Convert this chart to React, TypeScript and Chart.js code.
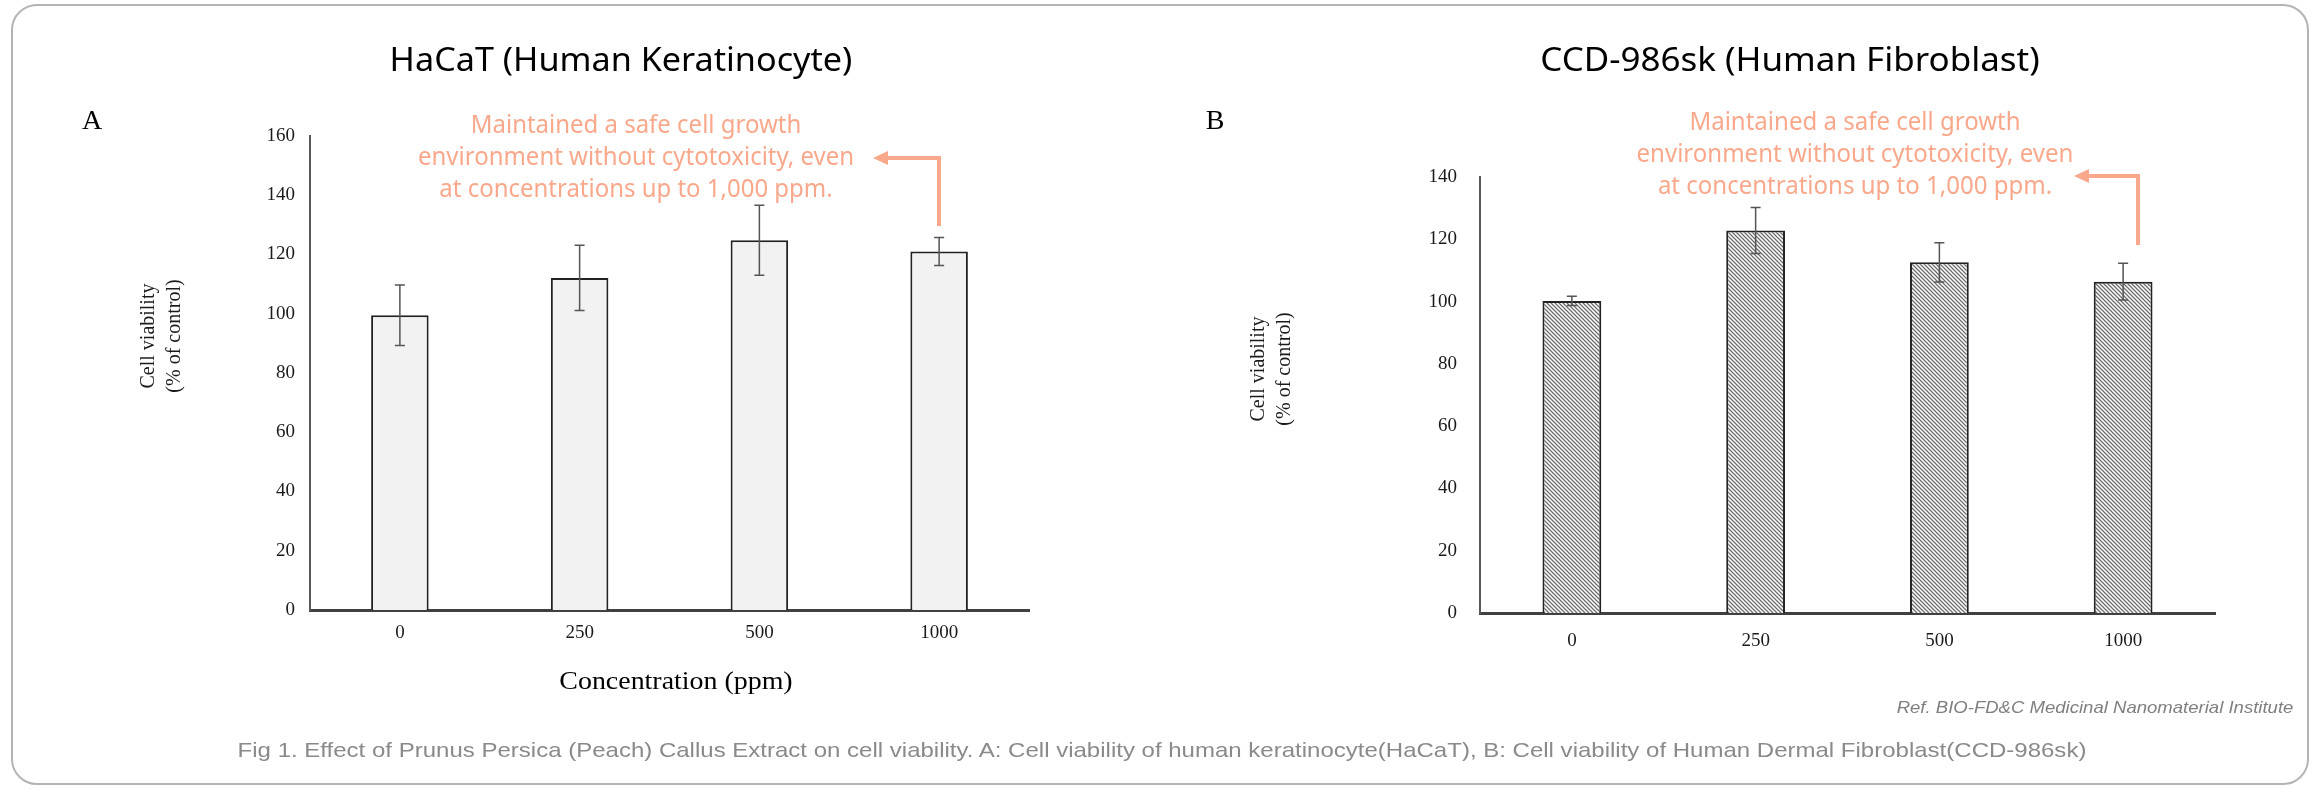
import React, { useEffect, useLayoutEffect, useRef, useState } from "react";
import { Chart, registerables } from "chart.js";

Chart.register(...registerables);

// ---------- data ----------
const categories = ["0", "250", "500", "1000"];
const hacatViability = [99.5, 112.1, 124.8, 121.0];
const hacatError = [10.2, 11.0, 11.8, 4.7];
const fibroViability = [100.2, 122.8, 112.6, 106.4];
const fibroError = [1.5, 7.4, 6.3, 5.9];
const hacatYTicks = [0, 20, 40, 60, 80, 100, 120, 140, 160];
const fibroYTicks = [0, 20, 40, 60, 80, 100, 120, 140];

const titleA = "HaCaT (Human Keratinocyte)";
const titleB = "CCD-986sk (Human Fibroblast)";
const noteLines = [
  "Maintained a safe cell growth",
  "environment without cytotoxicity, even",
  "at concentrations up to 1,000 ppm.",
];
const yTitleLines = ["Cell viability", "(% of control)"];
const xTitle = "Concentration (ppm)";
const caption =
  "Fig 1. Effect of Prunus Persica (Peach) Callus Extract on cell viability. A: Cell viability of human keratinocyte(HaCaT), B: Cell viability of Human Dermal Fibroblast(CCD-986sk)";
const refText = "Ref. BIO-FD&C Medicinal Nanomaterial Institute";

const SALMON = "#F9A88C";

const errorBarPlugin = {
  id: "errorBars",
  afterDatasetsDraw(chart: any, _args: any, opts: any) {
    const errs: number[] = opts.errors;
    if (!errs) return;
    const meta = chart.getDatasetMeta(0);
    const y = chart.scales.y;
    const ctx = chart.ctx;
    const vals = chart.data.datasets[0].data as number[];
    ctx.save();
    ctx.strokeStyle = opts.color || "#555";
    ctx.lineWidth = opts.width || 1.5;
    const cap = opts.cap || 5;
    meta.data.forEach((bar: any, i: number) => {
      const v = vals[i];
      const top = y.getPixelForValue(v + errs[i]);
      const bot = y.getPixelForValue(v - errs[i]);
      ctx.beginPath();
      ctx.moveTo(bar.x, top);
      ctx.lineTo(bar.x, bot);
      ctx.moveTo(bar.x - cap, top);
      ctx.lineTo(bar.x + cap, top);
      ctx.moveTo(bar.x - cap, bot);
      ctx.lineTo(bar.x + cap, bot);
      ctx.stroke();
    });
    ctx.restore();
  },
};

function makeHatch(): CanvasPattern | string {
  const c = document.createElement("canvas");
  c.width = 4;
  c.height = 4;
  const g = c.getContext("2d");
  if (!g) return "#999";
  g.fillStyle = "#ffffff";
  g.fillRect(0, 0, 4, 4);
  g.strokeStyle = "#6b6b6b";
  g.lineWidth = 1.25;
  g.beginPath();
  g.moveTo(-1, -1);
  g.lineTo(5, 5);
  g.moveTo(-1, 3);
  g.lineTo(1, 5);
  g.moveTo(3, -1);
  g.lineTo(5, 1);
  g.stroke();
  const p = g.createPattern(c, "repeat");
  return p || "#999";
}

type ChartProps = {
  left: number;
  values: number[];
  errors: number[];
  ticks: number[];
  pad: { left: number; top: number; right: number; bottom: number };
  yLabelPad: number;
  xLabelPad: number;
  hatch: boolean;
};

function BarChart(props: ChartProps) {
  const ref = useRef<HTMLCanvasElement>(null);
  useEffect(() => {
    if (!ref.current) return;
    const fill = props.hatch ? makeHatch() : "#F2F2F2";
    const chart = new Chart(ref.current, {
      type: "bar",
      data: {
        labels: categories,
        datasets: [
          {
            data: props.values,
            backgroundColor: fill as any,
            borderColor: "#222222",
            borderWidth: 2,
            barPercentage: 0.32,
            categoryPercentage: 1,
          },
        ],
      },
      options: {
        responsive: false,
        animation: false,
        devicePixelRatio: 1,
        layout: { padding: props.pad, autoPadding: false } as any,
        plugins: {
          legend: { display: false },
          tooltip: { enabled: false },
          errorBars: { errors: props.errors, color: "#555555", width: 1.5, cap: 5 },
        } as any,
        scales: {
          x: {
            z: 1,
            grid: { display: false, drawTicks: false },
            border: { display: true, color: "#404040", width: 3 },
            ticks: {
              color: "#1a1a1a",
              font: { family: "'Liberation Serif', 'Times New Roman', serif", size: 19 },
              padding: props.xLabelPad,
            },
            afterFit: (s: any) => {
              s.height = 60;
            },
          },
          y: {
            min: props.ticks[0],
            max: props.ticks[props.ticks.length - 1],
            grid: { display: false, drawTicks: false },
            border: { display: true, color: "#595959", width: 2 },
            ticks: {
              stepSize: props.ticks[1] - props.ticks[0],
              color: "#1a1a1a",
              font: { family: "'Liberation Serif', 'Times New Roman', serif", size: 19 },
              padding: props.yLabelPad,
            },
            afterFit: (s: any) => {
              s.width = 110;
            },
          },
        },
      },
      plugins: [errorBarPlugin as any],
    });
    return () => chart.destroy();
  }, []);
  return (
    <canvas
      ref={ref}
      width={1160}
      height={700}
      style={{ position: "absolute", left: props.left, top: 0, width: 1160, height: 700 }}
    />
  );
}

function FitText(props: {
  cx: number;
  cy: number;
  width: number;
  style: React.CSSProperties;
  lines: string[];
  lineHeight?: number;
}) {
  const ref = useRef<HTMLDivElement>(null);
  const [scale, setScale] = useState(1);
  useLayoutEffect(() => {
    const measure = () => {
      const el = ref.current;
      if (!el) return;
      const w = el.offsetWidth;
      if (w > 0) setScale(props.width / w);
    };
    measure();
    if ((document as any).fonts && (document as any).fonts.ready) {
      (document as any).fonts.ready.then(measure);
    }
  }, [props.width]);
  return (
    <div
      ref={ref}
      style={{
        position: "absolute",
        left: props.cx,
        top: props.cy,
        whiteSpace: "nowrap",
        textAlign: "center",
        lineHeight: props.lineHeight ? props.lineHeight + "px" : "1.2",
        transform: `translate(-50%, -50%) scaleX(${scale})`,
        ...props.style,
      }}
    >
      {props.lines.map((l, i) => (
        <div key={i}>{l}</div>
      ))}
    </div>
  );
}

function RotText(props: { cx: number; cy: number; lines: string[] }) {
  return (
    <div
      style={{
        position: "absolute",
        left: props.cx,
        top: props.cy,
        whiteSpace: "nowrap",
        textAlign: "center",
        fontFamily: "'Liberation Serif', 'Times New Roman', serif",
        fontSize: 20,
        lineHeight: "26px",
        color: "#1a1a1a",
        transform: "translate(-50%, -50%) rotate(-90deg)",
      }}
    >
      {props.lines.map((l, i) => (
        <div key={i}>{l}</div>
      ))}
    </div>
  );
}

function Arrow(props: { vx: number; yBottom: number; yTop: number; tipX: number }) {
  const head = 15;
  return (
    <svg
      width={2320}
      height={790}
      style={{ position: "absolute", left: 0, top: 0, pointerEvents: "none" }}
    >
      <polyline
        points={`${props.vx},${props.yBottom} ${props.vx},${props.yTop} ${props.tipX + head - 2},${props.yTop}`}
        fill="none"
        stroke={SALMON}
        strokeWidth={4}
      />
      <polygon
        points={`${props.tipX},${props.yTop} ${props.tipX + head},${props.yTop - 7} ${props.tipX + head},${props.yTop + 7}`}
        fill={SALMON}
      />
    </svg>
  );
}

export default function App() {
  const sans = "'Noto Sans', 'Open Sans', sans-serif";
  const serif = "'Liberation Serif', 'Times New Roman', serif";
  const arial = "'Liberation Sans', Arial, sans-serif";
  return (
    <div
      style={{
        position: "absolute",
        left: 0,
        top: 0,
        width: 2320,
        height: 790,
        background: "#ffffff",
        overflow: "hidden",
      }}
    >
      <div
        style={{
          position: "absolute",
          left: 11,
          top: 4,
          width: 2298,
          height: 781,
          border: "2.5px solid #b4b4b4",
          borderRadius: 26,
          boxSizing: "border-box",
        }}
      />
      <BarChart
        left={0}
        values={hacatViability}
        errors={hacatError}
        ticks={hacatYTicks}
        pad={{ left: 200, top: 136, right: 131, bottom: 30 }}
        yLabelPad={15}
        xLabelPad={12}
        hatch={false}
      />
      <BarChart
        left={1160}
        values={fibroViability}
        errors={fibroError}
        ticks={fibroYTicks}
        pad={{ left: 210, top: 177, right: 105, bottom: 27 }}
        yLabelPad={23}
        xLabelPad={17}
        hatch={true}
      />

      <FitText cx={621} cy={59} width={463} lines={[titleA]} style={{ fontFamily: sans, fontSize: 33, color: "#000" }} />
      <FitText cx={1790} cy={59} width={499} lines={[titleB]} style={{ fontFamily: sans, fontSize: 33, color: "#000" }} />

      <FitText
        cx={636}
        cy={155}
        width={436}
        lines={noteLines}
        lineHeight={32}
        style={{ fontFamily: sans, fontSize: 26, color: SALMON }}
      />
      <FitText
        cx={1855}
        cy={152}
        width={437}
        lines={noteLines}
        lineHeight={32}
        style={{ fontFamily: sans, fontSize: 26, color: SALMON }}
      />
      <Arrow vx={939} yBottom={226} yTop={158} tipX={873} />
      <Arrow vx={2138} yBottom={245} yTop={176} tipX={2074} />

      <FitText cx={92} cy={120} width={20} lines={["A"]} style={{ fontFamily: serif, fontSize: 28, color: "#000" }} />
      <FitText cx={1215} cy={120} width={19} lines={["B"]} style={{ fontFamily: serif, fontSize: 28, color: "#000" }} />

      <RotText cx={160} cy={336} lines={yTitleLines} />
      <RotText cx={1270} cy={369} lines={yTitleLines} />

      <FitText cx={676} cy={681} width={233} lines={[xTitle]} style={{ fontFamily: serif, fontSize: 26, color: "#000" }} />

      <FitText
        cx={2095}
        cy={708}
        width={397}
        lines={[refText]}
        style={{ fontFamily: arial, fontSize: 17, fontStyle: "italic", color: "#7f7f7f" }}
      />
      <FitText cx={1162} cy={750} width={1849} lines={[caption]} style={{ fontFamily: arial, fontSize: 21, color: "#8a8a8a" }} />
    </div>
  );
}
